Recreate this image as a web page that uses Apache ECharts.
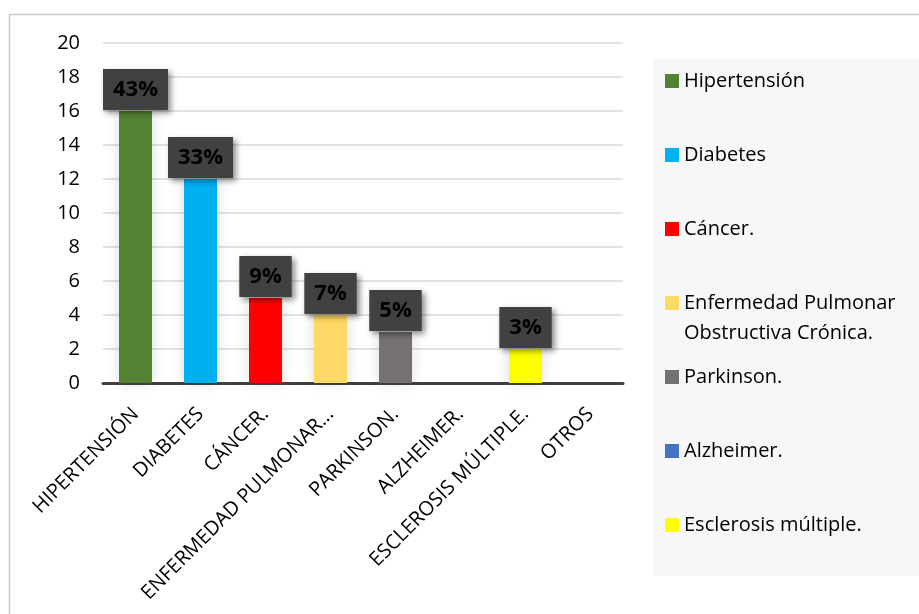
<!DOCTYPE html>
<html>
<head>
<meta charset="utf-8">
<script src="https://cdn.jsdelivr.net/npm/echarts@6/dist/echarts.min.js"></script>
<style>
  html, body { margin: 0; padding: 0; background: #fff; }
  #chart { width: 919px; height: 614px; }
</style>
</head>
<body>
<div id="chart"></div>
<script>
// categorias del eje x (como aparecen en el grafico)
var categories = ['HIPERTENSIÓN', 'DIABETES', 'CÁNCER.', 'ENFERMEDAD PULMONAR...', 'PARKINSON.', 'ALZHEIMER.', 'ESCLEROSIS MÚLTIPLE.', 'OTROS'];
// valores de cada barra
var values = [16, 12, 5, 4, 3, 0, 2, 0];
// etiquetas de porcentaje sobre las barras
var percents = ['43%', '33%', '9%', '7%', '5%', '', '3%', ''];
// nombres de la leyenda (una serie por enfermedad)
var legendNames = ['Hipertensión', 'Diabetes', 'Cáncer.', 'Enfermedad Pulmonar Obstructiva Crónica.', 'Parkinson.', 'Alzheimer.', 'Esclerosis múltiple.'];
var colors = ['#548235', '#00B0F0', '#FF0000', '#FFD966', '#767171', '#4472C4', '#FFFF00'];
var yTicks = { min: 0, max: 20, step: 2 };

var FONT = '"Open Sans", "Noto Sans", sans-serif';

var myChart = echarts.init(document.getElementById('chart'));

var series = [];
for (var i = 0; i < legendNames.length; i++) {
  var data = [];
  for (var j = 0; j < categories.length; j++) {
    if (j !== i) { data.push('-'); continue; }
    data.push({
      value: values[j],
      label: { show: percents[j] !== '' }
    });
  }
  series.push({
    name: legendNames[i],
    type: 'bar',
    stack: 'total',
    barWidth: 33,
    data: data,
    itemStyle: {
      color: colors[i],
      shadowBlur: 14,
      shadowColor: 'rgba(0,0,0,0.15)'
    },
    label: {
      position: 'top',
      distance: 1,
      formatter: function (p) { return percents[p.dataIndex]; },
      fontFamily: FONT,
      fontSize: 22,
      fontWeight: 'bold',
      color: '#000',
      lineHeight: 22,
      backgroundColor: '#414141',
      padding: [10, 10, 9, 10],
      shadowBlur: 6,
      shadowOffsetX: 3,
      shadowOffsetY: 3,
      shadowColor: 'rgba(0,0,0,0.45)'
    }
  });
}

var legendBase = {
  orient: 'vertical',
  left: 665,
  padding: 0,
  icon: 'rect',
  itemWidth: 14,
  itemHeight: 14,
  itemGap: 44,
  selectedMode: false,
  textStyle: { fontFamily: FONT, fontSize: 20, lineHeight: 30, color: '#000' }
};

option = {
  animation: false,
  graphic: [
    {
      type: 'rect', z: -10,
      shape: { x: 9.5, y: 14.5, width: 1000, height: 1000 },
      style: { fill: 'none', stroke: '#c9c9c9', lineWidth: 1.5 }
    },
    {
      type: 'rect', z: -10,
      shape: { x: 653, y: 58, width: 270, height: 518 },
      style: { fill: '#f7f7f7' }
    }
  ],
  grid: { left: 103, right: 296, top: 43, bottom: 231 },
  legend: [
    echarts.util.merge({ top: 66, data: legendNames.slice(0, 3) }, legendBase),
    echarts.util.merge({
      top: 258,
      data: [legendNames[3]],
      // linea vacia arriba para que el cuadrito quede junto a la primera linea
      formatter: function () { return '\nEnfermedad Pulmonar\nObstructiva Crónica.'; }
    }, legendBase),
    echarts.util.merge({ top: 362, data: legendNames.slice(4) }, legendBase)
  ],
  xAxis: {
    type: 'category',
    data: categories,
    axisLine: { lineStyle: { color: '#404040', width: 3 } },
    axisTick: { length: 7, lineStyle: { color: '#404040', width: 3 } },
    axisLabel: {
      interval: 0,
      rotate: 45,
      margin: 28,
      fontFamily: FONT,
      fontSize: 20,
      color: '#000'
    }
  },
  yAxis: {
    type: 'value',
    min: yTicks.min,
    max: yTicks.max,
    interval: yTicks.step,
    axisLine: { show: false },
    axisTick: { show: false },
    axisLabel: { margin: 23, fontFamily: FONT, fontSize: 20, color: '#000' },
    splitLine: { lineStyle: { color: '#d9d9d9', width: 1.5 } }
  },
  series: series
};

myChart.setOption(option);
</script>
</body>
</html>
